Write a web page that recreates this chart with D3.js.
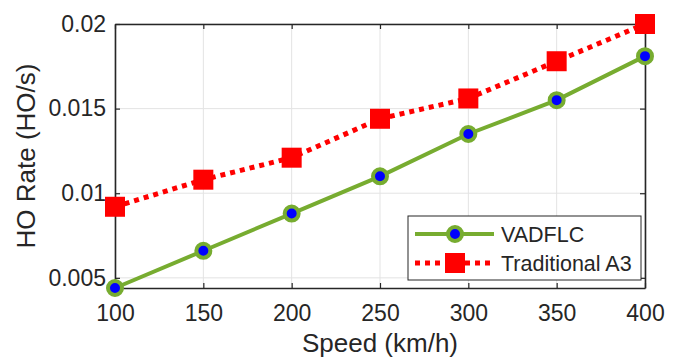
<!DOCTYPE html>
<html>
<head>
<meta charset="utf-8">
<script src="https://cdn.jsdelivr.net/npm/d3@7"></script>
<style>
  body { margin: 0; background: #fff; }
  svg { font-family: "Liberation Sans", Arial, sans-serif; }
</style>
</head>
<body>
<div id="chart"></div>
<script>
// chart data
const speeds = [100, 150, 200, 250, 300, 350, 400];
const vadflc = [0.0044, 0.0066, 0.0088, 0.0110, 0.0135, 0.0155, 0.0181];
const tradA3 = [0.0092, 0.0108, 0.0121, 0.0144, 0.0156, 0.0178, 0.0200];
const seriesNames = ['VADFLC', 'Traditional A3'];
const xTicks = [100, 150, 200, 250, 300, 350, 400];
const yTicks = [0.005, 0.01, 0.015, 0.02];

const width = 682, height = 358;
const margin = { left: 115, right: 37, top: 24, bottom: 70 };
const innerW = width - margin.left - margin.right;
const innerH = height - margin.top - margin.bottom;

const svg = d3.select('#chart').append('svg')
    .attr('width', width)
    .attr('height', height);

const g = svg.append('g')
    .attr('transform', 'translate(' + margin.left + ',' + margin.top + ')');

const scaleX = d3.scaleLinear().domain([100, 400]).range([0, innerW]);
const scaleY = d3.scaleLinear().domain([0.0044, 0.02]).range([innerH, 0]);

// grid
g.append('g').selectAll('line')
    .data(xTicks)
    .enter().append('line')
    .attr('x1', (d) => scaleX(d)).attr('x2', (d) => scaleX(d))
    .attr('y1', 0).attr('y2', innerH)
    .attr('stroke', '#e3e3e3').attr('stroke-width', 1);
g.append('g').selectAll('line')
    .data(yTicks)
    .enter().append('line')
    .attr('x1', 0).attr('x2', innerW)
    .attr('y1', (d) => scaleY(d)).attr('y2', (d) => scaleY(d))
    .attr('stroke', '#e3e3e3').attr('stroke-width', 1);

// axes (ticks pointing inwards, matlab style)
const xAxis = g.append('g')
    .attr('transform', 'translate(0,' + innerH + ')')
    .call(d3.axisBottom(scaleX).tickValues(xTicks).tickSizeInner(-5).tickSizeOuter(0).tickPadding(17));
const yAxis = g.append('g')
    .call(d3.axisLeft(scaleY).tickValues(yTicks).tickFormat((d) => String(+d.toFixed(3))).tickSizeInner(-5).tickSizeOuter(0).tickPadding(9));
const xAxisTop = g.append('g')
    .call(d3.axisTop(scaleX).tickValues(xTicks).tickSizeInner(-5).tickSizeOuter(0).tickFormat(''));
const yAxisRight = g.append('g')
    .attr('transform', 'translate(' + innerW + ',0)')
    .call(d3.axisRight(scaleY).tickValues(yTicks).tickSizeInner(-5).tickSizeOuter(0).tickFormat(''));

[xAxis, yAxis, xAxisTop, yAxisRight].forEach((a) => {
  a.select('.domain').attr('stroke', '#262626').attr('stroke-width', 1.6);
  a.selectAll('.tick line').attr('stroke', '#262626').attr('stroke-width', 1.2);
  a.selectAll('.tick text').attr('fill', '#262626').style('font-size', '23px')
      .style('font-family', '"Liberation Sans", Arial, sans-serif');
});

// axis labels
svg.append('text')
    .attr('x', margin.left + innerW / 2)
    .attr('y', 352)
    .attr('text-anchor', 'middle')
    .attr('fill', '#262626')
    .style('font-size', '26px')
    .text('Speed (km/h)');
svg.append('text')
    .attr('transform', 'translate(35,' + (margin.top + innerH / 2) + ') rotate(-90)')
    .attr('text-anchor', 'middle')
    .attr('fill', '#262626')
    .style('font-size', '26px')
    .text('HO Rate (HO/s)');

const line = d3.line()
    .x((d) => scaleX(d[0]))
    .y((d) => scaleY(d[1]));

const tradPts = speeds.map((s, i) => [s, tradA3[i]]);
const vadPts = speeds.map((s, i) => [s, vadflc[i]]);

// Traditional A3
g.append('path')
    .datum(tradPts)
    .attr('fill', 'none')
    .attr('stroke', '#ff0000')
    .attr('stroke-width', 5)
    .attr('stroke-dasharray', '5,5')
    .attr('d', line);
g.selectAll('.sq')
    .data(tradPts)
    .enter().append('rect')
    .attr('x', (d) => scaleX(d[0]) - 10)
    .attr('y', (d) => scaleY(d[1]) - 10)
    .attr('width', 20).attr('height', 20)
    .attr('fill', '#ff0000');

// VADFLC
g.append('path')
    .datum(vadPts)
    .attr('fill', 'none')
    .attr('stroke', '#77ac30')
    .attr('stroke-width', 4)
    .attr('d', line);
g.selectAll('.dot')
    .data(vadPts)
    .enter().append('circle')
    .attr('cx', (d) => scaleX(d[0]))
    .attr('cy', (d) => scaleY(d[1]))
    .attr('r', 7)
    .attr('fill', '#0000ff')
    .attr('stroke', '#77ac30')
    .attr('stroke-width', 4);

// Legend
const legend = svg.append('g');
legend.append('rect')
    .attr('x', 408).attr('y', 216)
    .attr('width', 233).attr('height', 64)
    .attr('fill', '#fff')
    .attr('stroke', '#262626').attr('stroke-width', 1);
const legRows = [234, 263];
legend.append('line')
    .attr('x1', 415).attr('x2', 494).attr('y1', legRows[0]).attr('y2', legRows[0])
    .attr('stroke', '#77ac30').attr('stroke-width', 4);
legend.append('circle')
    .attr('cx', 455).attr('cy', legRows[0]).attr('r', 7)
    .attr('fill', '#0000ff').attr('stroke', '#77ac30').attr('stroke-width', 4);
legend.append('line')
    .attr('x1', 415).attr('x2', 494).attr('y1', legRows[1]).attr('y2', legRows[1])
    .attr('stroke', '#ff0000').attr('stroke-width', 5).attr('stroke-dasharray', '5,5');
legend.append('rect')
    .attr('x', 445).attr('y', legRows[1] - 10).attr('width', 20).attr('height', 20)
    .attr('fill', '#ff0000');
legend.selectAll('.legtxt')
    .data(seriesNames)
    .enter().append('text')
    .attr('x', 501)
    .attr('y', (d, i) => legRows[i] + 8)
    .attr('fill', '#262626')
    .style('font-size', '21.5px')
    .text((d) => d);
</script>
</body>
</html>
